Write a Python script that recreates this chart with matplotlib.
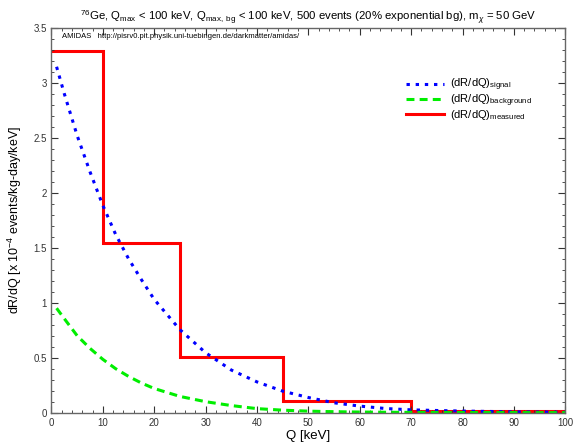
import matplotlib
matplotlib.use('Agg')
import matplotlib.pyplot as plt
from matplotlib.ticker import MultipleLocator

plt.rcParams['font.family'] = ['Liberation Sans', 'DejaVu Sans']
plt.rcParams['mathtext.fontset'] = 'custom'
plt.rcParams['mathtext.rm'] = 'Liberation Sans'
plt.rcParams['mathtext.it'] = 'Liberation Sans:italic'

# values
q_curve = [1, 2.5, 5, 7.5, 10, 12.5, 15, 17.5, 20, 25, 30, 35, 40, 45,
           50, 55, 60, 65, 70, 75, 80, 90, 100]
signal = [3.145, 2.90, 2.52, 2.19, 1.885, 1.62, 1.40, 1.21, 1.03, 0.755,
          0.545, 0.388, 0.28, 0.196, 0.138, 0.09, 0.06, 0.038, 0.026,
          0.02, 0.015, 0.008, 0.004]
background = [0.95, 0.855, 0.70, 0.585, 0.485, 0.40, 0.33, 0.27, 0.22, 0.148,
              0.10, 0.065, 0.037, 0.023, 0.014, 0.009, 0.006, 0.004, 0.003,
              0.002, 0.0015, 0.001, 0.0005]
bin_edges = [0, 10, 25, 45, 70, 100]
measured = [3.29, 1.545, 0.505, 0.108, 0.015]


def main():
    fig = plt.figure(figsize=(5.78, 4.43), dpi=100)
    ax = fig.add_axes([0.089, 0.0684, 0.889, 0.8691])

    ax.plot(q_curve, signal, color='#0000ff', lw=2.2, linestyle=(0, (1.1, 1.9)),
            label=r'(dR/dQ)$_{\rm signal}$')
    ax.plot(q_curve, background, color='#00ee00', lw=2.2, linestyle=(0, (2.6, 1.7)),
            label=r'(dR/dQ)$_{\rm background}$')
    ax.stairs(measured, bin_edges, baseline=None, color='#ff0000', lw=2.2,
              label=r'(dR/dQ)$_{\rm measured}$')

    ax.set_xlim(0, 100)
    ax.set_ylim(0, 3.5)
    ax.xaxis.set_major_locator(MultipleLocator(10))
    ax.xaxis.set_minor_locator(MultipleLocator(2))
    ax.yaxis.set_major_locator(MultipleLocator(0.5))
    ax.yaxis.set_minor_locator(MultipleLocator(0.1))
    ax.yaxis.set_major_formatter(plt.FuncFormatter(lambda v, p: '%g' % v))
    ax.tick_params(which='both', direction='in', top=True, right=True,
                   labelsize=7, colors='#333333')
    ax.tick_params(which='major', length=5)
    ax.tick_params(which='minor', length=2.5)
    for s in ax.spines.values():
        s.set_color('#666666')
        s.set_linewidth(1.0)

    ax.set_xlabel('Q [keV]', fontsize=9.5, labelpad=2)
    ax.set_ylabel(r'dR/dQ [x 10$^{-4}$ events/kg-day/keV]', fontsize=9)
    ax.yaxis.set_label_coords(-0.053, 0.5)
    ax.set_title(r'$^{76}$Ge, Q$_{\rm max}$ < 100 keV, Q$_{\rm max,\ bg}$ < 100 keV, '
                 r'500 events (20% exponential bg), m$_{\chi}$ = 50 GeV',
                 fontsize=8.2, pad=5)
    ax.text(0.02, 0.985, 'AMIDAS   http://pisrv0.pit.physik.uni-tuebingen.de/darkmatter/amidas/',
            transform=ax.transAxes, fontsize=5.5, va='top', ha='left')

    ax.legend(loc='upper left', bbox_to_anchor=(406 / 578, 1 - 77 / 443),
              bbox_transform=fig.transFigure, frameon=False, borderpad=0,
              borderaxespad=0, fontsize=8, handlelength=3.4, handletextpad=0.55,
              labelspacing=-0.08)

    fig.savefig('out.png', dpi=100)


if __name__ == '__main__':
    main()
